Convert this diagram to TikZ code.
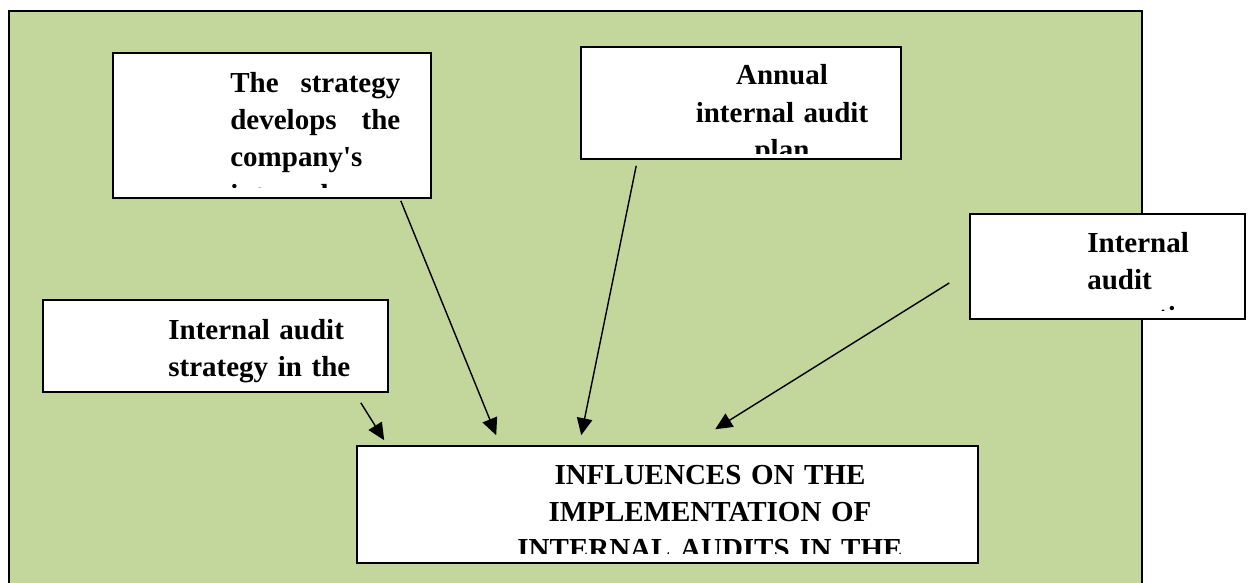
\documentclass[tikz,border=0pt]{standalone}
\usepackage{fontspec}
\setmainfont{Liberation Serif}
\usetikzlibrary{arrows.meta}
\definecolor{panelgreen}{RGB}{195,214,155}
\tikzset{
  panel/.style={draw, fill=white, line width=0.9pt, inner sep=0pt},
  boxtext/.style={inner sep=0pt, anchor=base west,
                  font=\bfseries\fontsize{16.5}{21.3}\selectfont},
  arr/.style={-{Triangle[length=3.4mm,width=3.1mm]}, line width=0.8pt},
}

\begin{document}
\begin{tikzpicture}
\useasboundingbox (0,0) rectangle (24.96,-11.66);

% green panel, its bottom edge runs off the page
\fill[panelgreen] (0.18,-0.22) rectangle (22.84,-12);
\draw[line width=1.6pt] (0.18,-12) -- (0.18,-0.22) -- (22.84,-0.22) -- (22.84,-12);

\node[panel, minimum width=6.36cm, minimum height=2.90cm] (strat) at (5.44,-2.51) {};
\node[panel, minimum width=6.40cm, minimum height=2.24cm] (plan) at (14.82,-2.06) {};
\node[panel, minimum width=5.50cm, minimum height=2.10cm] (oper) at (22.15,-5.33) {};
\node[panel, minimum width=6.90cm, minimum height=1.84cm] (instrat) at (4.31,-6.92) {};
\node[panel, minimum width=12.42cm, minimum height=2.34cm] (main) at (13.35,-10.09) {};

% texts, cut off at the bottom of their boxes
\begin{scope}
  \clip (strat.north west) rectangle ([yshift=0.23cm]strat.south east);
  \node[boxtext, text width=3.4cm, align=justify] (strattxt) at (4.60,-1.84)
    {The\hfill strategy\\ develops\hfill the\\ company\textquotesingle s\\ internal};
\end{scope}
\begin{scope}
  \clip (plan.north west) rectangle ([yshift=0.12cm]plan.south east);
  \node[boxtext, anchor=base, text width=4cm, align=center] (plantxt) at (15.64,-1.70)
    {Annual\\ internal audit\\ plan};
\end{scope}
\begin{scope}
  \clip (oper.north west) rectangle ([yshift=0.18cm]oper.south east);
  \node[boxtext, text width=3cm, align=left] (opertxt) at (21.74,-5.04)
    {Internal\\ audit\\ operations};
\end{scope}
\node[boxtext, text width=4cm, align=left] (instrattxt) at (3.36,-6.78)
  {Internal audit\\ strategy in the};
\begin{scope}
  \clip (main.north west) rectangle ([yshift=0.2cm]main.south east);
  \node[boxtext, anchor=base, text width=9cm, align=center] (maintxt) at (14.2,-9.68)
    {INFLUENCES ON THE\\ IMPLEMENTATION OF\\ INTERNAL AUDITS IN THE};
\end{scope}

\draw[arr] ([shift={(-0.56,-0.2)}]instrat.south east) -- ([shift={(0.56,0.1)}]main.north west);
\draw[arr] ([shift={(-0.62,-0.04)}]strat.south east) -- ([shift={(2.8,0.2)}]main.north west);
\draw[arr] ([shift={(1.12,-0.12)}]plan.south west) -- ([shift={(4.5,0.2)}]main.north west);
\draw[arr] ([shift={(-0.4,-0.33)}]oper.west) -- ([shift={(7.18,0.32)}]main.north west);

\end{tikzpicture}
\end{document}
